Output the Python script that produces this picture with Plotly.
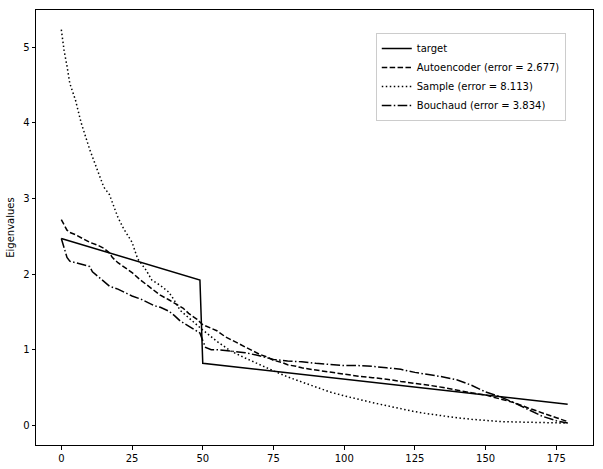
import plotly.graph_objects as go

# eigenvalue index (x) and eigenvalues
target_idx = [0, 49, 50, 179]
target_val = [2.47, 1.92, 0.82, 0.28]

auto_idx = [0, 1, 2, 3, 5, 8, 10, 13, 15, 17, 18, 20, 22, 25, 28, 30, 33, 35, 38, 40,
            43, 45, 48, 50, 53, 55, 58, 60, 63, 65, 68, 70, 73, 75, 78, 80, 83, 85, 90,
            95, 100, 105, 110, 115, 120, 125, 130, 135, 140, 145, 150, 155, 160, 165,
            170, 175, 179]
auto_val = [2.72, 2.65, 2.58, 2.55, 2.52, 2.46, 2.42, 2.38, 2.34, 2.28, 2.22, 2.15, 2.1,
            2.02, 1.92, 1.86, 1.78, 1.72, 1.66, 1.62, 1.55, 1.48, 1.4, 1.33, 1.28, 1.25,
            1.17, 1.13, 1.07, 1.03, 0.97, 0.94, 0.9, 0.86, 0.83, 0.8, 0.78, 0.76, 0.73,
            0.70, 0.67, 0.65, 0.63, 0.61, 0.58, 0.56, 0.53, 0.5, 0.46, 0.43, 0.40, 0.35,
            0.3, 0.23, 0.16, 0.1, 0.05]

sample_idx = [0, 1, 2, 3, 5, 7, 10, 12, 15, 17, 20, 22, 25, 27, 30, 32, 35, 38, 40, 42,
              45, 50, 55, 60, 65, 70, 75, 80, 85, 90, 95, 100, 105, 110, 115, 120, 125,
              130, 135, 140, 145, 150, 155, 160, 165, 170, 175, 179]
sample_val = [5.23, 4.95, 4.75, 4.52, 4.3, 4.0, 3.65, 3.45, 3.15, 3.05, 2.75, 2.6, 2.42,
              2.2, 2.05, 1.92, 1.85, 1.76, 1.65, 1.52, 1.42, 1.26, 1.11, 0.98, 0.89, 0.8,
              0.72, 0.64, 0.57, 0.5, 0.44, 0.39, 0.34, 0.30, 0.26, 0.22, 0.18, 0.15, 0.12,
              0.1, 0.08, 0.06, 0.05, 0.045, 0.04, 0.035, 0.03, 0.03]

bouch_idx = [0, 1, 2, 3, 5, 8, 10, 11, 13, 15, 17, 20, 23, 25, 28, 30, 33, 35, 38, 40,
             42, 45, 48, 49, 50, 51, 53, 55, 60, 65, 70, 75, 80, 85, 90, 95, 100, 105,
             110, 115, 120, 125, 130, 135, 140, 145, 150, 155, 160, 165, 170, 175, 179]
bouch_val = [2.47, 2.35, 2.22, 2.17, 2.15, 2.13, 2.1, 2.03, 1.97, 1.9, 1.84, 1.8, 1.74,
             1.71, 1.67, 1.63, 1.58, 1.56, 1.51, 1.45, 1.38, 1.31, 1.25, 1.22, 1.12, 1.03,
             1.0, 1.0, 0.98, 0.96, 0.92, 0.87, 0.85, 0.84, 0.82, 0.8, 0.79, 0.79, 0.78,
             0.76, 0.74, 0.7, 0.67, 0.64, 0.6, 0.53, 0.44, 0.38, 0.3, 0.21, 0.12, 0.06,
             0.03]

x_ticks = [0, 25, 50, 75, 100, 125, 150, 175]
y_ticks = [0, 1, 2, 3, 4, 5]

series = [
    ('target', target_idx, target_val, 'solid'),
    ('Autoencoder (error = 2.677)', auto_idx, auto_val, '5.5px,2.4px'),
    ('Sample (error = 8.113)', sample_idx, sample_val, '1.5px,2.5px'),
    ('Bouchaud (error = 3.834)', bouch_idx, bouch_val, '9.6px,2.4px,1.5px,2.4px'),
]

fig = go.Figure()
for name, xs, ys, dash in series:
    fig.add_trace(go.Scatter(
        name=name, x=xs, y=ys, mode='lines',
        line=dict(color='black', width=1.5, dash=dash)
    ))

axis_style = dict(
    showline=True, mirror=True, linecolor='black', linewidth=1,
    ticks='outside', ticklen=3.5, tickwidth=0.8, tickcolor='black',
    showgrid=False, zeroline=False, automargin=False,
    tickfont=dict(family='DejaVu Sans', size=10, color='black'),
)

fig.update_layout(
    width=603, height=469,
    margin=dict(l=36, r=10, t=10, b=24),
    paper_bgcolor='white', plot_bgcolor='white',
    font=dict(family='DejaVu Sans', size=10, color='black'),
    xaxis=dict(range=[-8.95, 187.95], tickvals=x_ticks, **axis_style),
    yaxis=dict(range=[-0.26, 5.49], tickvals=y_ticks,
               title=dict(text='Eigenvalues', standoff=6,
                          font=dict(family='DejaVu Sans', size=10, color='black')),
               **axis_style),
    legend=dict(x=0.610, y=0.947, xanchor='left', yanchor='top',
                bgcolor='rgba(255,255,255,0.8)', bordercolor='#cccccc', borderwidth=1,
                font=dict(family='DejaVu Sans', size=10, color='black'),
                tracegroupgap=0, itemwidth=30),
)

# drop the browser's default body margin so the figure sits at the page corner
fig.write_html("out.html", config={'displayModeBar': False},
               post_script="document.body.style.margin = '0';")
